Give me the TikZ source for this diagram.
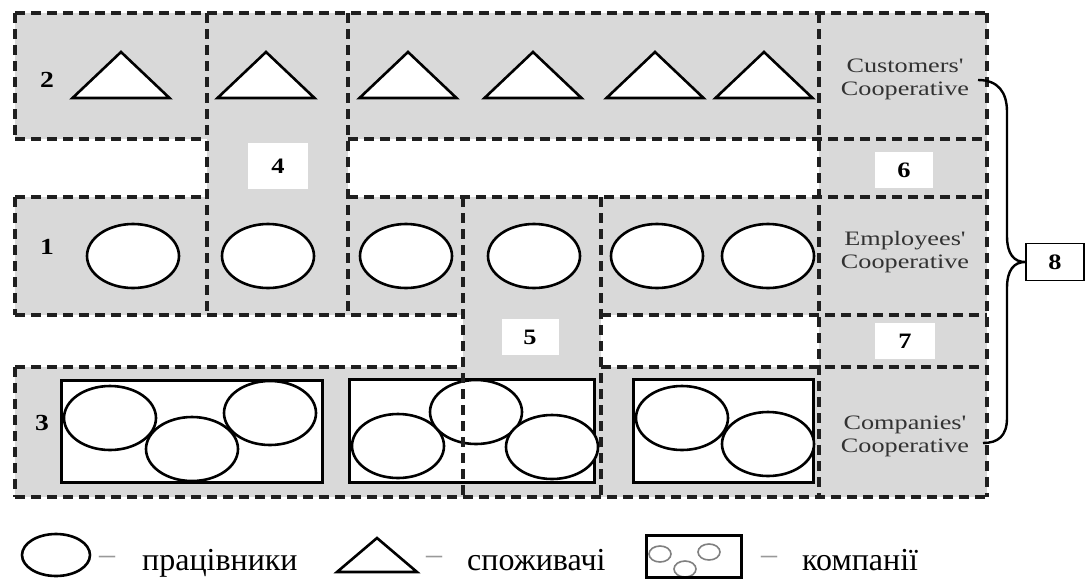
\documentclass[tikz,border=0pt]{standalone}
\usepackage{graphicx}
\usepackage{fontspec}
\setmainfont{Liberation Serif}
\newfontfamily\labfont[Ligatures=TeXOff]{Liberation Serif}
\definecolor{panel}{RGB}{217,217,217}
\definecolor{labtxt}{RGB}{50,50,50}
\begin{document}
\begin{tikzpicture}[x=1pt,y=-1pt,
  dsh/.style={line width=3.2pt, dash pattern=on 10pt off 6pt, draw=black!88},
  shp/.style={draw=black, line width=2.6pt, fill=white, line join=miter},
  cbox/.style={draw=black, line width=3pt, fill=white},
  numbox/.style={fill=white, minimum width=58pt, minimum height=36pt, inner sep=0pt,
    font=\bfseries\fontsize{22}{24}\selectfont},
  rowlab/.style={inner sep=0pt, font=\bfseries\fontsize{23}{24}\selectfont},
  coop/.style={align=center, inner sep=0pt, text=labtxt, font=\labfont\fontsize{20.5}{23}\selectfont},
  legtxt/.style={anchor=base west, inner sep=0pt, font=\fontsize{32}{34}\selectfont},
  legdash/.style={inner sep=0pt, text=black!40, font=\fontsize{32}{34}\selectfont},
  brace/.style={draw=black, line width=2.4pt}
]
\useasboundingbox (0,0) rectangle (1090,579);

% ---- grey panels
\fill[panel] (15,13) rectangle (987,139);
\fill[panel] (207,139) rectangle (348,197);
\fill[panel] (15,197) rectangle (987,315);
\fill[panel] (463,315) rectangle (601,367);
\fill[panel] (819,13) rectangle (987,497);
\fill[panel] (15,367) rectangle (987,497);

% ---- triangles (customers)
\foreach \cx in {121,266,408,533,655,764}
  \draw[shp] (\cx-48.5,98) -- (\cx,52) -- (\cx+48.5,98) -- cycle;

% ---- circles (employees)
\foreach \cx in {133,268,406,534,657,768}
  \draw[shp] (\cx,256) ellipse [x radius=46pt, y radius=32pt];

% ---- companies
\draw[cbox] (61,380) rectangle (322,482);
\draw[cbox] (349,379) rectangle (594,482);
\draw[cbox] (633,379) rectangle (813,482);
\foreach \cx/\cy in {110/418,192/449,270/413,398/446,476/412,552/447,682/418,768/444}
  \draw[shp] (\cx,\cy) ellipse [x radius=46pt, y radius=32pt];

% ---- dashed frame lines (no overlaps)
\draw[dsh] (15,13) -- (987,13);
\draw[dsh] (15,139) -- (207,139);
\draw[dsh] (348,139) -- (987,139);
\draw[dsh] (15,197) -- (207,197);
\draw[dsh] (348,197) -- (987,197);
\draw[dsh] (15,315) -- (463,315);
\draw[dsh] (601,315) -- (987,315);
\draw[dsh] (15,367) -- (463,367);
\draw[dsh] (601,367) -- (987,367);
\draw[dsh] (15,497) -- (987,497);
\draw[dsh] (15,13) -- (15,139);
\draw[dsh] (15,197) -- (15,315);
\draw[dsh] (15,367) -- (15,497);
\draw[dsh] (207,13) -- (207,315);
\draw[dsh] (348,13) -- (348,315);
\draw[dsh] (463,197) -- (463,497);
\draw[dsh] (601,197) -- (601,497);
\draw[dsh] (819,13) -- (819,497);
\draw[dsh] (987,13) -- (987,497);

% ---- row numbers
\node[rowlab] (r2) at (47,80) {\scalebox{1.2}[1]{2}};
\node[rowlab] (r1) at (47,247) {\scalebox{1.2}[1]{1}};
\node[rowlab] (r3) at (42,423) {\scalebox{1.2}[1]{3}};

% ---- numbered white boxes
\node[numbox, minimum width=60pt, minimum height=46pt] (n4) at (278,166) {\scalebox{1.2}[1]{4}};
\node[numbox, minimum width=57pt] (n5) at (530,337) {\scalebox{1.2}[1]{5}};
\node[numbox] (n6) at (904,170) {\scalebox{1.2}[1]{6}};
\node[numbox, minimum width=60pt] (n7) at (905,341) {\scalebox{1.2}[1]{7}};
\node[numbox, draw=black, line width=1.8pt, minimum width=58pt, minimum height=37pt] (n8) at (1055,262) {\scalebox{1.2}[1]{8}};

% ---- cooperative labels
\node[coop] (cust) at (905,79) {\scalebox{1.28}[1]{Customers'}\\\scalebox{1.28}[1]{Cooperative}};
\node[coop] (empl) at (905,252) {\scalebox{1.28}[1]{Employees'}\\\scalebox{1.28}[1]{Cooperative}};
\node[coop] (comp) at (905,436) {\scalebox{1.28}[1]{Companies'}\\\scalebox{1.28}[1]{Cooperative}};

% ---- brace to 8
\coordinate (bt) at (978,80);
\coordinate (bb) at (983,443);
\draw[brace] (bt) .. controls (998,80) and (1007,92) .. (1007,112)
  -- (1007,236) .. controls (1007,254) and (1014,262) .. (n8.west)
  .. controls (1014,262) and (1007,270) .. (1007,288)
  -- (1007,418) .. controls (1007,436) and (998,443) .. (bb);

% ---- legend
\draw[shp, line width=2.6pt] (56,555) ellipse [x radius=34pt, y radius=21pt];
\node[legdash] (d1) at (107,560) {–};
\node[legtxt] (t1) at (142,570) {працівники};
\draw[shp, line width=2.6pt] (337,572) -- (377,538) -- (417,572) -- cycle;
\node[legdash] (d2) at (434,560) {–};
\node[legtxt] (t2) at (467,570) {споживачі};
\fill[white] (646,535) rectangle (741,577);
\begin{scope}
\clip (646,535) rectangle (741,577);
\foreach \cx/\cy in {660/554,685/569,709/552}
  \draw[draw=black!50, line width=1.6pt] (\cx,\cy) ellipse [x radius=11pt, y radius=8pt];
\end{scope}
\draw[draw=black, line width=3pt] (646,535) rectangle (741,577);
\node[legdash] (d3) at (769,560) {–};
\node[legtxt] (t3) at (802,570) {компанії};
\end{tikzpicture}
\end{document}
